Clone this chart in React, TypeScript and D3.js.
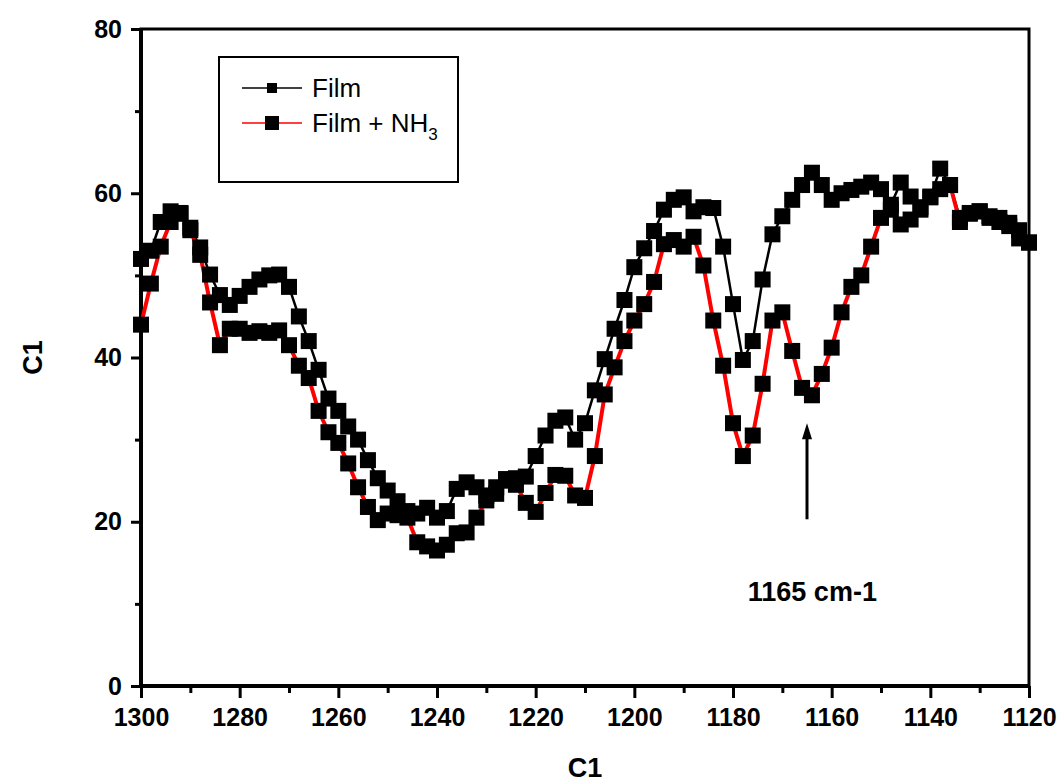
import React, { useEffect, useRef } from "react";
import * as d3 from "d3";

// wavenumber grid (cm-1)
const wavenumbers = [
  1300, 1298, 1296, 1294, 1292, 1290, 1288, 1286, 1284, 1282, 1280, 1278, 1276, 1274, 1272, 1270,
  1268, 1266, 1264, 1262, 1260, 1258, 1256, 1254, 1252, 1250, 1248, 1246, 1244, 1242, 1240, 1238,
  1236, 1234, 1232, 1230, 1228, 1226, 1224, 1222, 1220, 1218, 1216, 1214, 1212, 1210, 1208, 1206,
  1204, 1202, 1200, 1198, 1196, 1194, 1192, 1190, 1188, 1186, 1184, 1182, 1180, 1178, 1176, 1174,
  1172, 1170, 1168, 1166, 1164, 1162, 1160, 1158, 1156, 1154, 1152, 1150, 1148, 1146, 1144, 1142,
  1140, 1138, 1136, 1134, 1132, 1130, 1128, 1126, 1124, 1122, 1120,
];

const filmValues = [
  52, 53, 56.5, 57.8, 57.6, 55.8, 53.4, 50.1, 47.6, 46.4, 47.5, 48.6, 49.5, 50, 50.1, 48.6,
  45, 42, 38.5, 35, 33.5, 31.6, 30, 27.5, 25.3, 23.8, 22.5, 21.3, 21, 21.7, 20.5, 21.3,
  24, 24.8, 24.2, 23.2, 24.2, 25, 25.3, 25.5, 28, 30.5, 32.3, 32.7, 30, 32, 36, 39.8,
  43.5, 47, 51, 53.3, 55.4, 58, 59.2, 59.5, 57.8, 58.3, 58.2, 53.5, 46.5, 39.7, 42, 49.5,
  55, 57.2, 59.2, 61, 62.5, 61, 59.2, 60, 60.4, 60.8, 61.3, 60.5, 58.6, 61.3, 59.6, 58,
  59.5, 63, 61, 57, 57.6, 57.8, 57.2, 57, 56.4, 55.5, 54,
];

const nh3Values = [
  44, 49, 53.5, 56.5, 57.5, 55.5, 52.5, 46.7, 41.5, 43.5, 43.5, 43, 43.2, 43, 43.3, 41.5,
  39, 37.5, 33.5, 30.9, 29.6, 27.1, 24.2, 21.8, 20.2, 21, 20.8, 20.5, 17.5, 17, 16.5, 17.2,
  18.6, 18.7, 20.5, 22.6, 23.4, 25.2, 24.5, 22.3, 21.2, 23.5, 25.7, 25.6, 23.2, 22.9, 28, 35.5,
  38.8, 42, 44.5, 46.5, 49.2, 53.8, 54.3, 53.5, 54.7, 51.2, 44.5, 39, 32, 28, 30.5, 36.8,
  44.5, 45.5, 40.8, 36.3, 35.4, 38, 41.2, 45.5, 48.6, 50, 53.5, 57, 58, 56.2, 56.8, 58.3,
  59.6, 60.5, 61, 56.5, 57.5, 57.8, 57, 56.5, 56, 54.5, 54,
];

const seriesNames = ["Film", "Film + NH"];
const xTicks = [1300, 1280, 1260, 1240, 1220, 1200, 1180, 1160, 1140, 1120];
const xMinorTicks = [1290, 1270, 1250, 1230, 1210, 1190, 1170, 1150, 1130];
const yTicks = [0, 20, 40, 60, 80];
const yMinorTicks = [10, 30, 50, 70];
const annotation = { wavenumber: 1165, from: 20.3, to: 32, label: "1165 cm-1" };

const App = () => {
  const svgRef = useRef(null);

  useEffect(() => {
    const w = 1058;
    const h = 782;
    const left = 141;
    const right = 1029;
    const top = 29;
    const bottom = 686;
    const font = "'Liberation Sans', Arial, sans-serif";

    const svg = d3.select(svgRef.current).attr("width", w).attr("height", h);
    svg.selectAll("*").remove();
    svg.append("rect").attr("width", w).attr("height", h).attr("fill", "#fff");

    const x = d3.scaleLinear().domain([1300, 1120]).range([left, right]);
    const y = d3.scaleLinear().domain([0, 80]).range([bottom, top]);

    // axes
    const xAxis = d3
      .axisBottom(x)
      .tickValues(xTicks)
      .tickSize(12)
      .tickPadding(10)
      .tickFormat(d3.format("d"));
    const xMinor = d3
      .axisBottom(x)
      .tickValues(xMinorTicks)
      .tickSize(7)
      .tickFormat(() => "");
    const yAxis = d3.axisLeft(y).tickValues(yTicks).tickSize(10).tickPadding(9);
    const yMinor = d3
      .axisLeft(y)
      .tickValues(yMinorTicks)
      .tickSize(6)
      .tickFormat(() => "");

    const styleAxis = (g) => {
      g.select(".domain").remove();
      g.selectAll(".tick line").attr("stroke", "#000").attr("stroke-width", 3);
      g.selectAll(".tick text")
        .attr("fill", "#000")
        .style("font-family", font)
        .style("font-weight", "bold")
        .style("font-size", "25px");
    };

    svg.append("g").attr("transform", `translate(0,${bottom})`).call(xAxis).call(styleAxis);
    svg.append("g").attr("transform", `translate(0,${bottom})`).call(xMinor).call(styleAxis);
    svg.append("g").attr("transform", `translate(${left},0)`).call(yAxis).call(styleAxis);
    svg.append("g").attr("transform", `translate(${left},0)`).call(yMinor).call(styleAxis);

    // frame
    svg
      .append("rect")
      .attr("x", left)
      .attr("y", top)
      .attr("width", right - left)
      .attr("height", bottom - top)
      .attr("fill", "none")
      .attr("stroke", "#000")
      .attr("stroke-width", 3);
    svg
      .append("path")
      .attr("d", `M${left},${top} V${bottom} H${right}`)
      .attr("fill", "none")
      .attr("stroke", "#000")
      .attr("stroke-width", 4);

    // axis titles
    svg
      .append("text")
      .attr("x", (left + right) / 2)
      .attr("y", 777)
      .attr("text-anchor", "middle")
      .style("font-family", font)
      .style("font-weight", "bold")
      .style("font-size", "27px")
      .text("C1");
    svg
      .append("text")
      .attr("transform", `translate(42,${(top + bottom) / 2}) rotate(-90)`)
      .attr("text-anchor", "middle")
      .style("font-family", font)
      .style("font-weight", "bold")
      .style("font-size", "27px")
      .text("C1");

    // lines
    const line = d3
      .line()
      .x((d) => x(d[0]))
      .y((d) => y(d[1]));
    const film = wavenumbers.map((v, i) => [v, filmValues[i]]);
    const nh3 = wavenumbers.map((v, i) => [v, nh3Values[i]]);

    const plot = svg.append("g");
    plot
      .append("path")
      .datum(film)
      .attr("d", line)
      .attr("fill", "none")
      .attr("stroke", "#000")
      .attr("stroke-width", 2.5);
    plot
      .append("path")
      .datum(nh3)
      .attr("d", line)
      .attr("fill", "none")
      .attr("stroke", "#ff0000")
      .attr("stroke-width", 4);

    const size = 16;
    [film, nh3].forEach((data) => {
      plot
        .append("g")
        .selectAll("rect")
        .data(data)
        .join("rect")
        .attr("x", (d) => x(d[0]) - size / 2)
        .attr("y", (d) => y(d[1]) - size / 2)
        .attr("width", size)
        .attr("height", size)
        .attr("fill", "#000");
    });

    // legend
    const legend = svg.append("g");
    legend
      .append("rect")
      .attr("x", 219)
      .attr("y", 57)
      .attr("width", 239)
      .attr("height", 125)
      .attr("fill", "#fff")
      .attr("stroke", "#000")
      .attr("stroke-width", 2);
    const rows = [
      { name: seriesNames[0], color: "#000", sw: 1.5, ms: 10, yy: 88 },
      { name: seriesNames[1], color: "#ff0000", sw: 1.5, ms: 14, yy: 123 },
    ];
    rows.forEach((r, i) => {
      legend
        .append("line")
        .attr("x1", 242)
        .attr("x2", 302)
        .attr("y1", r.yy)
        .attr("y2", r.yy)
        .attr("stroke", r.color)
        .attr("stroke-width", r.sw);
      legend
        .append("rect")
        .attr("x", 272 - r.ms / 2)
        .attr("y", r.yy - r.ms / 2)
        .attr("width", r.ms)
        .attr("height", r.ms)
        .attr("fill", "#000");
      const t = legend
        .append("text")
        .attr("x", 312)
        .attr("y", r.yy + 9)
        .style("font-family", font)
        .style("font-size", "26px")
        .text(r.name);
      if (i === 1) {
        t.append("tspan").attr("dy", 8).style("font-size", "17px").text("3");
      }
    });

    // annotation arrow
    const ax = x(annotation.wavenumber);
    svg
      .append("line")
      .attr("x1", ax)
      .attr("x2", ax)
      .attr("y1", y(annotation.from))
      .attr("y2", y(annotation.to) + 10)
      .attr("stroke", "#000")
      .attr("stroke-width", 3);
    svg
      .append("path")
      .attr(
        "d",
        `M${ax},${y(annotation.to)} L${ax - 5},${y(annotation.to) + 16} L${ax + 5},${y(annotation.to) + 16} Z`
      )
      .attr("fill", "#000");
    svg
      .append("text")
      .attr("x", x(1177))
      .attr("y", y(10.3))
      .style("font-family", font)
      .style("font-weight", "bold")
      .style("font-size", "27px")
      .text(annotation.label);
  }, []);

  return (
    <div style={{ position: "absolute", left: 0, top: 0 }}>
      <svg ref={svgRef}></svg>
    </div>
  );
};

export default App;
